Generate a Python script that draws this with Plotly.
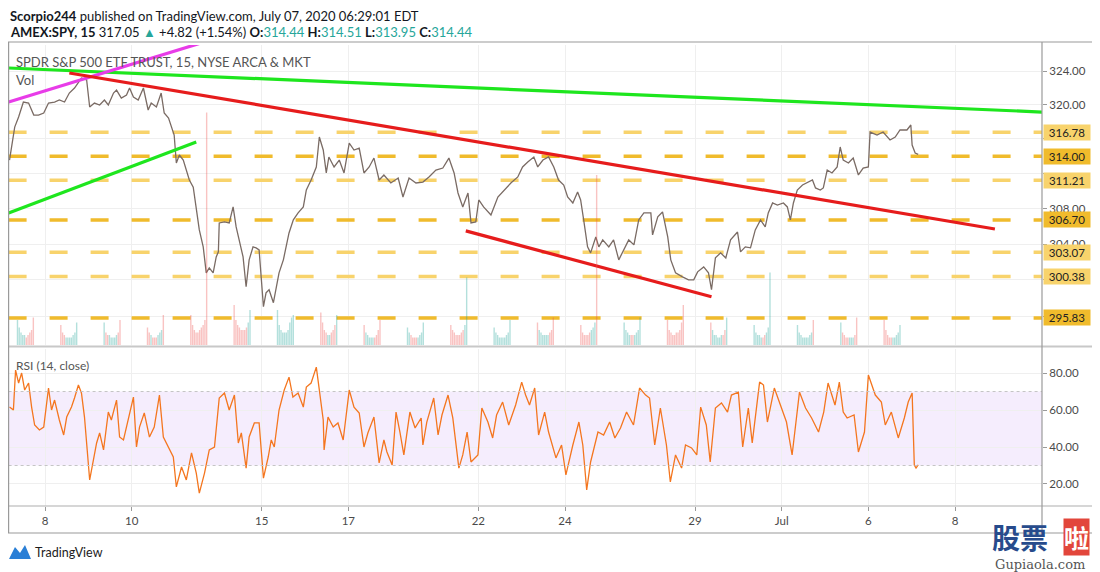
import numpy as np
import plotly.graph_objects as go

# ------------------------------------------------------------------ data
# x unit = trading day (extended hours 04:00-20:00), 0 = June 8
tick_days = [0, 2, 5, 7, 10, 12, 15, 17, 19, 21]
tick_labels = ["8", "10", "15", "17", "22", "24", "29", "Jul", "6", "8"]

price_t = [-0.82, -0.70, -0.61, -0.50, -0.38, -0.26, -0.15, -0.03, 0.08, 0.22, 0.33, 0.45, 0.56, 0.68, 0.84, 0.96,
           1.03, 1.14, 1.26, 1.37, 1.46, 1.58, 1.65, 1.76, 1.88, 1.95, 2.04, 2.15, 2.27, 2.38, 2.45, 2.57, 2.68, 2.75,
           2.85, 2.91, 2.98, 3.03, 3.10, 3.19, 3.26, 3.33, 3.42, 3.49, 3.56, 3.65, 3.72, 3.79, 3.88, 3.95, 4.00, 4.02,
           4.14, 4.25, 4.34, 4.41, 4.48, 4.57, 4.64, 4.71, 4.80, 4.87, 4.94, 5.04, 5.10, 5.17, 5.27, 5.33, 5.40, 5.50,
           5.56, 5.63, 5.73, 5.84, 5.96, 6.03, 6.14, 6.26, 6.33, 6.42, 6.49, 6.55, 6.67, 6.79, 6.90, 7.02, 7.13, 7.25,
           7.36, 7.48, 7.59, 7.71, 7.82, 7.98, 8.15, 8.26, 8.40, 8.56, 8.72, 8.86, 9.02, 9.18, 9.32, 9.44, 9.53, 9.64,
           9.76, 9.83, 9.94, 10.01, 10.12, 10.29, 10.45, 10.59, 10.75, 10.91, 11.02, 11.14, 11.28, 11.37, 11.49, 11.62,
           11.74, 11.85, 11.97, 12.06, 12.18, 12.29, 12.36, 12.43, 12.52, 12.59, 12.71, 12.78, 12.87, 13.01, 13.12,
           13.24, 13.35, 13.47, 13.59, 13.70, 13.82, 13.98, 14.02, 14.14, 14.25, 14.37, 14.44, 14.55, 14.71, 14.85,
           14.97, 15.06, 15.20, 15.31, 15.38, 15.47, 15.59, 15.71, 15.82, 15.98, 16.05, 16.16, 16.28, 16.39, 16.51,
           16.62, 16.69, 16.79, 16.90, 17.04, 17.13, 17.20, 17.27, 17.36, 17.48, 17.59, 17.71, 17.78, 17.89, 17.96,
           18.05, 18.16, 18.28, 18.35, 18.42, 18.54, 18.65, 18.77, 18.88, 19.00, 19.04, 19.20, 19.34, 19.50, 19.62,
           19.73, 19.89, 19.98, 20.01, 20.08, 20.15]
price_v = [313.55, 317.38, 318.56, 320.32, 320.20, 318.79, 318.79, 319.03, 320.20, 320.32, 320.56, 320.32, 321.38,
           321.98, 323.16, 322.93, 319.73, 320.20, 319.97, 320.56, 319.97, 321.38, 321.73, 320.79, 321.15, 321.98,
           320.91, 320.56, 321.98, 319.38, 320.20, 319.73, 321.38, 319.03, 318.44, 317.38, 316.45, 313.21, 314.13,
           313.55, 312.40, 311.25, 310.44, 308.18, 305.58, 303.68, 300.79, 301.34, 300.79, 302.56, 303.12, 306.37,
           306.48, 306.37, 308.18, 305.92, 304.46, 302.56, 299.25, 302.23, 303.68, 303.57, 303.34, 297.06, 298.59,
           298.92, 297.50, 298.92, 300.79, 302.23, 303.68, 305.24, 306.71, 307.50, 308.18, 310.11, 311.25, 312.75,
           316.22, 314.71, 312.06, 313.90, 312.75, 313.55, 312.06, 315.52, 314.71, 314.94, 312.06, 312.75, 313.78,
           311.25, 311.83, 310.91, 311.48, 309.31, 311.48, 310.91, 311.02, 311.60, 312.40, 312.63, 313.78, 312.06,
           309.77, 308.18, 309.77, 306.37, 306.48, 308.97, 308.18, 307.27, 309.31, 310.11, 310.91, 311.60, 312.75,
           313.32, 313.90, 312.75, 313.55, 313.90, 312.75, 311.25, 310.68, 309.31, 308.63, 309.88, 308.97, 306.71,
           303.68, 303.01, 304.79, 303.68, 304.46, 303.68, 304.46, 302.23, 303.34, 304.46, 303.90, 306.71, 307.50,
           307.50, 305.02, 307.05, 307.61, 304.79, 302.23, 300.79, 300.35, 300.02, 300.02, 300.90, 301.45, 300.79,
           298.92, 302.45, 303.01, 302.45, 304.46, 305.35, 303.12, 303.68, 303.57, 305.58, 306.71, 305.92, 307.50,
           308.63, 308.40, 308.63, 308.18, 306.71, 308.63, 310.11, 310.68, 310.91, 311.25, 310.34, 310.11, 310.34,
           312.40, 312.06, 312.75, 315.06, 313.55, 313.21, 313.78, 311.83, 312.63, 312.75, 316.80, 316.45, 316.80,
           315.87, 316.22, 317.04, 317.04, 317.62, 315.29, 314.36, 314.20]

rsi_t = [-0.82, -0.73, -0.68, -0.61, -0.54, -0.47, -0.38, -0.31, -0.24, -0.13, -0.03, 0.08, 0.15, 0.22, 0.33, 0.43,
         0.50, 0.61, 0.68, 0.77, 0.84, 0.91, 1.03, 1.12, 1.19, 1.26, 1.35, 1.46, 1.53, 1.65, 1.72, 1.81, 1.92, 2.04,
         2.11, 2.18, 2.29, 2.41, 2.52, 2.64, 2.73, 2.85, 2.96, 3.03, 3.15, 3.26, 3.38, 3.49, 3.56, 3.68, 3.79, 3.91,
         4.02, 4.14, 4.25, 4.37, 4.46, 4.53, 4.64, 4.71, 4.83, 4.94, 5.04, 5.15, 5.22, 5.29, 5.40, 5.52, 5.63, 5.72,
         5.84, 5.96, 6.03, 6.14, 6.26, 6.33, 6.42, 6.44, 6.53, 6.65, 6.76, 6.88, 7.02, 7.13, 7.25, 7.36, 7.45, 7.59,
         7.71, 7.82, 7.89, 8.01, 8.10, 8.19, 8.28, 8.42, 8.54, 8.68, 8.72, 8.81, 8.97, 9.07, 9.16, 9.30, 9.41, 9.55,
         9.64, 9.74, 9.83, 9.99, 10.08, 10.22, 10.33, 10.42, 10.56, 10.70, 10.86, 11.00, 11.09, 11.18, 11.30, 11.39,
         11.53, 11.62, 11.79, 11.92, 12.02, 12.18, 12.32, 12.41, 12.50, 12.59, 12.76, 12.89, 13.03, 13.15, 13.28,
         13.42, 13.58, 13.72, 13.86, 13.95, 14.07, 14.20, 14.34, 14.43, 14.55, 14.69, 14.78, 14.92, 15.04, 15.13,
         15.26, 15.35, 15.47, 15.61, 15.75, 15.84, 16.00, 16.10, 16.23, 16.32, 16.49, 16.58, 16.67, 16.83, 16.97,
         17.11, 17.24, 17.41, 17.55, 17.69, 17.85, 17.97, 18.07, 18.23, 18.33, 18.42, 18.51, 18.67, 18.77, 18.91,
         19.00, 19.16, 19.30, 19.39, 19.53, 19.69, 19.83, 19.92, 20.01, 20.06, 20.10, 20.15]
rsi_v = [61.6, 60.0, 81.6, 74.6, 80.0, 70.8, 74.6, 61.6, 51.9, 49.2, 50.8, 71.9, 60.0, 65.4, 54.6, 46.5,
         56.2, 61.6, 66.5, 73.5, 69.2, 56.2, 22.2, 33.0, 42.2, 47.6, 38.4, 58.9, 54.6, 65.4, 45.4, 43.8, 54.6, 67.0,
         40.0, 50.8, 58.4, 45.4, 50.8, 68.1, 45.4, 40.0, 34.6, 18.4, 29.2, 22.2, 36.8, 25.9, 15.1, 25.9, 38.4, 40.0,
         66.5, 69.2, 60.0, 68.1, 42.2, 47.6, 28.6, 45.4, 53.0, 53.0, 23.2, 34.6, 43.8, 40.0, 60.0, 70.8, 77.8, 67.0,
         69.2, 61.6, 72.4, 74.6, 83.2, 70.8, 54.6, 38.4, 56.2, 50.8, 53.0, 43.8, 70.8, 61.6, 58.4, 40.0, 47.6, 56.2,
         31.4, 43.8, 37.3, 30.3, 58.9, 48.1, 35.7, 58.9, 50.3, 55.7, 41.1, 53.5, 66.5, 46.5, 57.3, 68.1, 55.7, 28.6,
         35.7, 48.1, 31.9, 35.7, 61.1, 53.5, 44.9, 57.3, 64.3, 51.9, 62.7, 75.1, 68.1, 62.7, 71.9, 46.5,
         58.9, 48.1, 34.1, 41.1, 24.9, 41.1, 53.5, 41.1, 16.8, 31.9, 48.1, 46.5, 53.5, 44.9, 50.3,
         58.9, 51.9, 71.9, 68.1, 66.5, 41.1, 61.1, 41.1, 21.1, 35.7, 28.6, 41.1, 39.5, 35.7, 61.6,
         51.9, 31.9, 61.1, 63.8, 58.9, 68.1, 69.7, 40.0, 61.1, 42.2, 75.1, 73.5, 53.5, 71.9, 62.7,
         53.5, 35.7, 69.7, 61.1, 55.7, 48.1, 58.9, 74.6, 62.7, 75.1, 58.9, 55.7, 57.3, 37.3, 48.1,
         78.9, 68.1, 64.3, 51.9, 58.9, 44.9, 55.7, 64.3, 69.2, 30.3, 28.6, 30.3]

# volume (millions) per regular-session block (10 blocks 09:30-16:00), one list per day
vol_days = list(range(-1, 20))
vol_by_day = [
    [10, 7, 5, 4, 4, 3, 4, 5, 6, 11],    # Jun 5
    [8, 5, 4, 3, 3, 3, 3, 4, 5, 9],      # Jun 8
    [9, 5, 4, 4, 3, 3, 3, 4, 5, 10],     # Jun 9
    [7, 5, 4, 3, 3, 3, 4, 5, 6, 12],     # Jun 10
    [12, 8, 6, 5, 5, 6, 7, 8, 10, 93],   # Jun 11
    [16, 10, 8, 7, 6, 6, 6, 7, 9, 14],   # Jun 12
    [14, 8, 6, 5, 5, 5, 6, 9, 11, 12],   # Jun 15
    [13, 9, 6, 5, 4, 4, 5, 6, 8, 12],    # Jun 16
    [8, 5, 4, 3, 3, 3, 3, 4, 6, 10],     # Jun 17
    [7, 5, 4, 3, 3, 3, 3, 4, 5, 9],      # Jun 18
    [8, 6, 5, 4, 4, 4, 5, 6, 8, 27],     # Jun 19
    [7, 5, 4, 3, 3, 3, 3, 4, 5, 10],     # Jun 22
    [9, 6, 5, 4, 4, 4, 4, 5, 6, 11],     # Jun 23
    [8, 5, 4, 4, 4, 5, 6, 7, 9, 68],     # Jun 24
    [9, 6, 5, 4, 4, 4, 4, 5, 6, 11],     # Jun 25
    [10, 6, 5, 4, 4, 5, 5, 6, 9, 16],    # Jun 26
    [9, 6, 4, 4, 3, 3, 4, 4, 6, 11],     # Jun 29
    [8, 5, 4, 4, 3, 3, 4, 5, 7, 29],     # Jun 30
    [8, 5, 4, 3, 3, 3, 3, 4, 5, 10],     # Jul 1
    [9, 5, 4, 3, 3, 3, 3, 3, 4, 11],     # Jul 2
    [10, 6, 4, 3, 3, 3, 3, 4, 5, 8],     # Jul 6
]

levels = [316.78, 314.00, 311.21, 306.70, 303.07, 300.38, 295.83]
level_tone = ["light", "dark", "light", "dark", "light", "light", "dark"]

price_ticks = [296, 300, 304, 308, 312, 316, 320, 324]
price_tick_text = ["", "", "304.00", "308.00", "", "", "320.00", "324.00"]
rsi_ticks = [20, 40, 60, 80]

green_top_t, green_top_p = [-0.84, 23.01], [324.36, 319.14]
magenta_t, magenta_p = [-0.84, 3.61], [320.32, 327.38]
green_low_t, green_low_p = [-0.84, 3.49], [307.50, 315.64]
red_long_t, red_long_p = [0.56, 21.92], [323.76, 305.69]
red_low_t, red_low_p = [9.71, 15.38], [305.47, 298.15]

# ------------------------------------------------------------------ layout helpers
# the page places the figure 8px in from the top-left corner, so the figure is 8px smaller
OFF = 8
W, H = 1100 - OFF, 572 - OFF
def px(x): return (x - OFF) / W
def py(y): return 1 - (y - OFF) / H

X0, X1 = -0.841, 23.007
PRICE_RANGE = [np.log10(292.9), np.log10(327.12)]
RSI_RANGE = [8.1, 93.0]
FONT = "Lato, 'Open Sans', Arial, sans-serif"
LIGHT, DARK = "#f8d36c", "#f0bb2c"

fig = go.Figure()

# volume bars
vt, vv = [], []
for d, vals in zip(vol_days, vol_by_day):
    n = len(vals)
    for k, v in enumerate(vals):
        hour = 9.5 + (k + 0.5) * 6.5 / n
        vt.append(d + (hour - 4) / 16)
        vv.append(v)
vt = np.array(vt)
p_now = np.interp(vt, price_t, price_v)
p_prev = np.interp(vt - 0.04, price_t, price_v)
vcol = ["rgba(38,166,154,0.35)" if a >= b else "rgba(239,83,80,0.35)" for a, b in zip(p_now, p_prev)]
fig.add_trace(go.Bar(x=vt, y=vv, width=0.032, marker=dict(color=vcol, line_width=0),
                     xaxis="x", yaxis="y3", hoverinfo="skip"))

# horizontal levels
for lv, tone in zip(levels, level_tone):
    fig.add_trace(go.Scatter(x=[X0, X1], y=[lv, lv], mode="lines",
                             line=dict(color=LIGHT if tone == "light" else DARK, width=3.5, dash="18px,23px"),
                             xaxis="x", yaxis="y", hoverinfo="skip"))

# price
fig.add_trace(go.Scatter(x=price_t, y=price_v, mode="lines", line=dict(color="#7a6b64", width=1.3),
                         xaxis="x", yaxis="y"))

# trend lines
for tt, pp, col in [(green_top_t, green_top_p, "#1ee61e"), (magenta_t, magenta_p, "#e83ce8"),
                    (green_low_t, green_low_p, "#1ee61e"), (red_long_t, red_long_p, "#e61c1c"),
                    (red_low_t, red_low_p, "#e61c1c")]:
    fig.add_trace(go.Scatter(x=tt, y=pp, mode="lines", line=dict(color=col, width=3.2),
                             xaxis="x", yaxis="y", hoverinfo="skip"))

# RSI
fig.add_trace(go.Scatter(x=rsi_t, y=rsi_v, mode="lines", line=dict(color="#f4761f", width=1.3),
                         xaxis="x2", yaxis="y2"))

shapes = [
    dict(type="rect", xref="x2", yref="y2", x0=X0, x1=X1, y0=30, y1=70, fillcolor="rgba(153,82,233,0.10)",
         line_width=0, layer="below"),
    dict(type="line", xref="x2", yref="y2", x0=X0, x1=X1, y0=70, y1=70, line=dict(color="#c5c5c5", width=1, dash="3px,3px")),
    dict(type="line", xref="x2", yref="y2", x0=X0, x1=X1, y0=30, y1=30, line=dict(color="#c5c5c5", width=1, dash="3px,3px")),
]
# frame lines
for (xa, ya, xb, yb, c, w) in [(8, 42, 1100, 42, "#9a9a9a", 1.2), (8, 346.5, 1100, 346.5, "#c8c8c8", 2),
                               (8, 506, 1100, 506, "#c8c8c8", 1.5), (8, 533, 1100, 533, "#9a9a9a", 1.2),
                               (8.6, 42, 8.6, 533, "#9a9a9a", 1.2), (1042, 42, 1042, 533, "#9a9a9a", 1.2)]:
    shapes.append(dict(type="line", xref="paper", yref="paper", x0=px(xa), x1=px(xb), y0=py(ya), y1=py(yb),
                       line=dict(color=c, width=w)))
# TradingView logo icon
pts = [(9, 559), (15, 547), (20, 553), (25, 545), (31, 559)]
path = "M " + " L ".join(f"{px(a):.5f},{py(b):.5f}" for a, b in pts) + " Z"
shapes.append(dict(type="path", xref="paper", yref="paper", path=path, fillcolor="#2a7fd6", line_width=0))

ann = []
def text(x, y, s, size=13, color="#131722", anchor="left", family=FONT, **kw):
    ann.append(dict(xref="paper", yref="paper", x=px(x), y=py(y), text=s, showarrow=False, xanchor=anchor,
                    yanchor="middle", font=dict(size=size, color=color, family=family), **kw))

G = "#26a69a"
text(8, 16, "<b>Scorpio244</b> published on TradingView.com, July 07, 2020 06:29:01 EDT", 13)
text(8, 32, f"<b>AMEX:SPY, 15</b> 317.05 <span style='color:{G}'>▲</span> +4.82 (+1.54%) "
            f"<b>O:</b><span style='color:{G}'>314.44</span> <b>H:</b><span style='color:{G}'>314.51</span> "
            f"<b>L:</b><span style='color:{G}'>313.95</span> <b>C:</b><span style='color:{G}'>314.44</span>", 13)
text(14, 62, "SPDR S&amp;P 500 ETF TRUST, 15, NYSE ARCA &amp; MKT", 13, "#555555")
text(14, 80, "Vol", 13, "#555555")
text(14, 365, "RSI (14, close)", 12, "#555555")
text(33, 552, "TradingView", 12.5, "#1c1c1c")

# level price boxes
for lv, tone in zip(levels, level_tone):
    ann.append(dict(xref="paper", yref="y", x=px(1043), y=np.log10(lv), text=f"{lv:.2f}", showarrow=False,
                    xanchor="left", yanchor="middle", bgcolor=LIGHT if tone == "light" else DARK,
                    width=44, height=13, borderpad=1, font=dict(size=11.5, color="#222222", family=FONT)))

# watermark
ann.append(dict(xref="paper", yref="paper", x=px(1020), y=py(537), text="<b>股票</b>", showarrow=False,
                xanchor="center", yanchor="middle",
                font=dict(size=28, color="#274b8c", family="Noto Sans CJK SC")))
ann.append(dict(xref="paper", yref="paper", x=px(1076), y=py(537), text="<b>啦</b>", showarrow=False,
                xanchor="center", yanchor="middle", bgcolor="#e2463b", borderpad=0,
                font=dict(size=25, color="#ffffff", family="Noto Sans CJK SC")))
text(1040, 564, "Gupiaola.com", 13, "#555555", anchor="center", family="'DejaVu Serif', serif")

fig.update_layout(
    width=W, height=H, margin=dict(l=0, r=0, t=0, b=0), paper_bgcolor="white", plot_bgcolor="white",
    showlegend=False, shapes=shapes, annotations=ann, font=dict(family=FONT),
    xaxis=dict(domain=[px(8.6), px(1042)], range=[X0, X1], tickvals=tick_days, showticklabels=False,
               showgrid=True, gridcolor="#efefef", zeroline=False, anchor="y", showline=False),
    yaxis=dict(domain=[py(345), py(45)], type="log", range=PRICE_RANGE, side="right",
               tickvals=price_ticks, ticktext=price_tick_text,
               showgrid=True, gridcolor="#efefef", zeroline=False, ticks="outside", ticklen=4,
               tickcolor="#9a9a9a", tickfont=dict(size=11.5, color="#4a4a4a"), anchor="x"),
    yaxis3=dict(overlaying="y", range=[0, 120], visible=False, anchor="x"),
    xaxis2=dict(domain=[px(8.6), px(1042)], range=[X0, X1], tickvals=tick_days, ticktext=tick_labels,
                showgrid=True, gridcolor="#efefef", zeroline=False, anchor="y2", ticks="outside",
                ticklen=4, tickcolor="#9a9a9a", tickfont=dict(size=11.5, color="#4a4a4a")),
    yaxis2=dict(domain=[py(506), py(349)], range=RSI_RANGE, side="right", tickvals=rsi_ticks,
                ticktext=[f"{v:.2f}" for v in rsi_ticks], showgrid=True, gridcolor="#efefef",
                zeroline=False, ticks="outside", ticklen=4, tickcolor="#9a9a9a",
                tickfont=dict(size=11.5, color="#4a4a4a"), anchor="x2"),
)

fig.write_html("out.html")
